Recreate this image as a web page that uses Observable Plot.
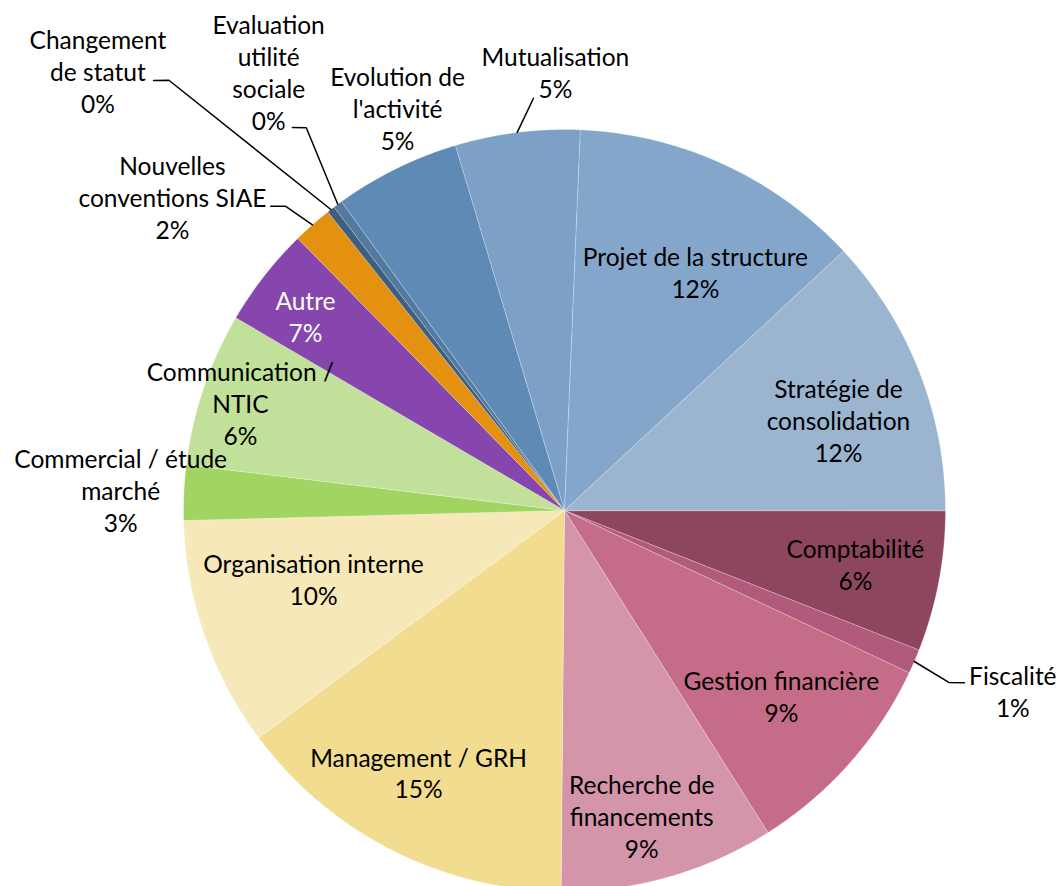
<!DOCTYPE html>
<html><head><meta charset="utf-8">
<script src="https://cdn.jsdelivr.net/npm/d3@7"></script>
<script src="https://cdn.jsdelivr.net/npm/@observablehq/plot@0.6"></script>
<style>body{margin:0;background:#fff;overflow:hidden}#chart svg{display:block}</style>
</head><body><div id="chart"></div>
<script>
// ---- data (slice shares in %; label texts as printed) ----
const categories = ["Comptabilité", "Fiscalité", "Gestion financière", "Recherche de\nfinancements",
  "Management / GRH", "Organisation interne", "Commercial / étude\nmarché", "Communication /\nNTIC",
  "Autre", "Nouvelles\nconventions SIAE", "Changement\nde statut", "Evaluation\nutilité\nsociale",
  "Evolution de\nl'activité", "Mutualisation", "Projet de la structure", "Stratégie de\nconsolidation"];
const shares = [5.97, 1.03, 9.03, 9.11, 14.69, 9.75, 2.33, 6.53, 4.22, 1.67, 0.33, 0.39, 5.33, 5.28, 12.42, 11.92];
const pctLabels = ["6%", "1%", "9%", "9%", "15%", "10%", "3%", "6%", "7%", "2%", "0%", "0%", "5%", "5%", "12%", "12%"];
const colors = ["#8E465F", "#B25A7B", "#C56C89", "#D494AA", "#F2DC90", "#F6E8B8", "#A2D462", "#C1E099",
  "#8646AD", "#E59110", "#3F5F80", "#54799F", "#5F8AB5", "#7DA0C6", "#85A6CB", "#9BB5D1"];

// ---- layout (label placement: [angle deg clockwise from east, radius factor]) ----
const labelPolar = [[10.7,0.777],[22.1,1.27],[40.8,0.752],[75.9,0.831],[119.0,0.79],[164.4,0.684],
  [182.45,1.166],[198.1,0.895],[216.7,0.848],[218.5,1.315],[223.2,1.68],[235.9,1.385],
  [247.4,1.14],[268.8,1.147],[298.9,0.711],[342,0.756]];
const labelInk = i => categories[i] === "Autre" ? "white" : "black";
const leaders = {1: [[24.1,1.105],[23.3,1.143]], 9: [[227.5,1.083],[226.0,1.11]],
  10: [[227.4,1.534],[226.3,1.561]], 11: [[236.0,1.212],[234.6,1.233]], 13: [[265.7,1.085]]};

const W = 1060, H = 886, CX = 564, CY = 510, R = 381;
const polar = (deg, rf) => ({x: rf * Math.cos(deg * Math.PI / 180), y: -rf * Math.sin(deg * Math.PI / 180)});

const rows = categories.map((c, i) => ({i, name: c, v: shares[i], color: colors[i]}));
const arcs = d3.pie().sort(null).value(d => d.v).startAngle(Math.PI / 2).endAngle(Math.PI / 2 + 2 * Math.PI)(rows);

const polys = arcs.flatMap(a => {
  const pts = [{k: a.data.i, x: 0, y: 0, c: a.data.color}];
  const n = Math.max(2, Math.ceil((a.endAngle - a.startAngle) / 0.004));
  for (let j = 0; j <= n; j++) {
    const t = a.startAngle + (a.endAngle - a.startAngle) * j / n;
    pts.push({k: a.data.i, x: Math.sin(t), y: Math.cos(t), c: a.data.color});
  }
  return pts;
});

const midDeg = arcs.map(a => ((a.startAngle + a.endAngle) / 2 - Math.PI / 2) * 180 / Math.PI);

const labels = rows.map(r => ({...polar(...labelPolar[r.i]), text: r.name + "\n" + pctLabels[r.i], ink: labelInk(r.i)}));

const leaderPts = Object.entries(leaders).flatMap(([k, pts]) => {
  const i = +k;
  return [{k: i, ...polar(midDeg[i], 1)}, ...pts.map(p => ({k: i, ...polar(...p)}))];
});

const chart = Plot.plot({
  width: W, height: H, margin: 0,
  x: {domain: [-CX / R, (W - CX) / R], axis: null},
  y: {domain: [(CY - H) / R, CY / R], axis: null},
  color: {type: "identity"},
  style: {background: "white"},
  marks: [
    Plot.line(polys, {x: "x", y: "y", z: "k", fill: "c", stroke: "#ffffff", strokeOpacity: 0.35, strokeWidth: 0.8, curve: "linear-closed"}),
    Plot.line(leaderPts, {x: "x", y: "y", z: "k", stroke: "black", strokeWidth: 1.5}),
    Plot.text(labels, {x: "x", y: "y", dy: -1.5, text: "text", fill: "ink", fontSize: 24.5, lineHeight: 32 / 24.5, fontFamily: "Lato"})
  ]
});
document.getElementById("chart").append(chart);
</script>
</body></html>
